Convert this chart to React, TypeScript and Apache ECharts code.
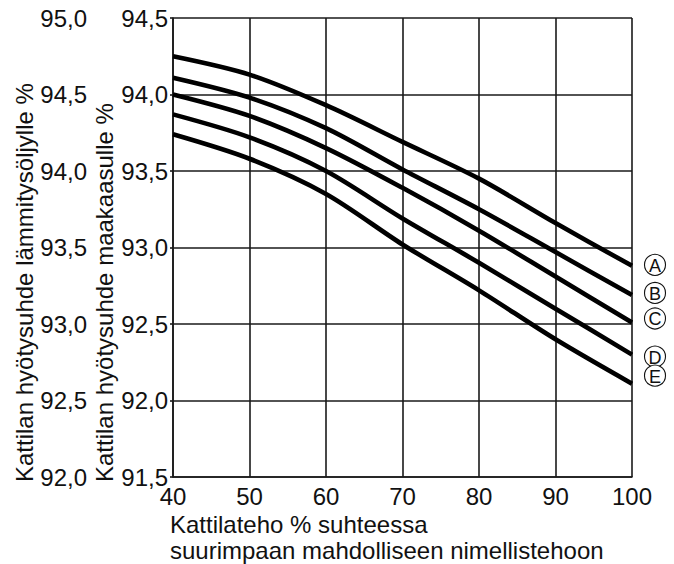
import React, { useEffect, useRef } from "react";
import * as echarts from "echarts";

const loadPct = [40, 50, 60, 70, 80, 90, 100];
const curveA = [94.25, 94.13, 93.93, 93.69, 93.45, 93.16, 92.88];
const curveB = [94.11, 93.98, 93.78, 93.51, 93.25, 92.97, 92.69];
const curveC = [94.0, 93.86, 93.65, 93.39, 93.11, 92.81, 92.51];
const curveD = [93.87, 93.72, 93.5, 93.19, 92.9, 92.6, 92.3];
const curveE = [93.74, 93.58, 93.35, 93.02, 92.72, 92.4, 92.11];
const curveNames = ["A", "B", "C", "D", "E"];
const labelOffsets = [-1, -2, -4, 2, -8];

const xName = "Kattilateho % suhteessa\nsuurimpaan mahdolliseen nimellistehoon";
const yNameGas = "Kattilan hyötysuhde maakaasulle %";
const yNameOil = "Kattilan hyötysuhde lämmitysöljylle %";

const FONT = "'Liberation Sans', Arial, sans-serif";
const FS = 24;
const fmt = (v: number) => v.toFixed(1).replace(".", ",");

export default function App() {
  const ref = useRef<HTMLDivElement>(null);
  useEffect(() => {
    if (!ref.current) return;
    const chart = echarts.init(ref.current, null, { renderer: "svg" });
    const curves = [curveA, curveB, curveC, curveD, curveE];
    const gridLine = { color: "#1a1a1a", width: 1.6 };
    const baseGraphics: any[] = [
      {
        type: "text",
        left: 170,
        top: 511,
        style: { text: xName, font: `${FS}px ${FONT}`, fill: "#111", lineHeight: 26 },
      },
      {
        type: "text",
        x: 104,
        y: 482,
        rotation: Math.PI / 2,
        style: {
          text: yNameGas,
          font: `${FS}px ${FONT}`,
          fill: "#111",
          align: "left",
          verticalAlign: "middle",
        },
      },
      {
        type: "text",
        x: 24,
        y: 482,
        rotation: Math.PI / 2,
        style: {
          text: yNameOil,
          font: `${FS}px ${FONT}`,
          fill: "#111",
          align: "left",
          verticalAlign: "middle",
        },
      },
    ];
    chart.setOption({
      animation: false,
      backgroundColor: "#fff",
      textStyle: { fontFamily: FONT },
      grid: { left: 173, right: 42, top: 18, bottom: 87 },
      xAxis: {
        type: "value",
        min: 40,
        max: 100,
        interval: 10,
        axisLine: { show: true, lineStyle: gridLine },
        axisTick: { show: false },
        axisLabel: { fontSize: FS, color: "#111", margin: 7, fontFamily: FONT },
        splitLine: { show: true, lineStyle: gridLine },
      },
      yAxis: [
        {
          type: "value",
          min: 91.5,
          max: 94.5,
          interval: 0.5,
          position: "left",
          axisLine: { show: true, lineStyle: gridLine },
          axisTick: { show: true, length: 3, lineStyle: gridLine },
          axisLabel: { fontSize: FS, color: "#111", margin: 5, formatter: fmt, fontFamily: FONT },
          splitLine: { show: true, lineStyle: gridLine },
        },
        {
          type: "value",
          min: 92.0,
          max: 95.0,
          interval: 0.5,
          position: "left",
          offset: 81,
          axisLine: { show: false },
          axisTick: { show: false },
          axisLabel: { fontSize: FS, color: "#111", margin: 5, formatter: fmt, fontFamily: FONT },
          splitLine: { show: false },
        },
      ],
      series: curves.map((vals, i) => ({
        type: "line",
        name: curveNames[i],
        yAxisIndex: 0,
        data: loadPct.map((x, j) => [x, vals[j]]),
        smooth: 0.3,
        showSymbol: false,
        lineStyle: { color: "#000", width: 4.6 },
      })),
      graphic: baseGraphics,
    });

    const markers: any[] = [];
    curves.forEach((vals, i) => {
      const last = vals.length - 1;
      const p = chart.convertToPixel({ xAxisIndex: 0, yAxisIndex: 0 }, [
        loadPct[last],
        vals[last],
      ]) as number[];
      const cx = p[0] + 23;
      const cy = p[1] + labelOffsets[i];
      markers.push({
        type: "circle",
        shape: { cx, cy, r: 10.5 },
        style: { fill: "#fff", stroke: "#111", lineWidth: 1.1 },
        z: 10,
      });
      markers.push({
        type: "text",
        x: cx,
        y: cy + 1,
        style: {
          text: curveNames[i],
          font: `18px ${FONT}`,
          fill: "#111",
          align: "center",
          verticalAlign: "middle",
        },
        z: 11,
      });
    });
    chart.setOption({ graphic: [...baseGraphics, ...markers] });

    return () => chart.dispose();
  }, []);
  return (
    <div
      ref={ref}
      style={{ position: "fixed", left: 0, top: 0, width: 674, height: 564 }}
    />
  );
}
